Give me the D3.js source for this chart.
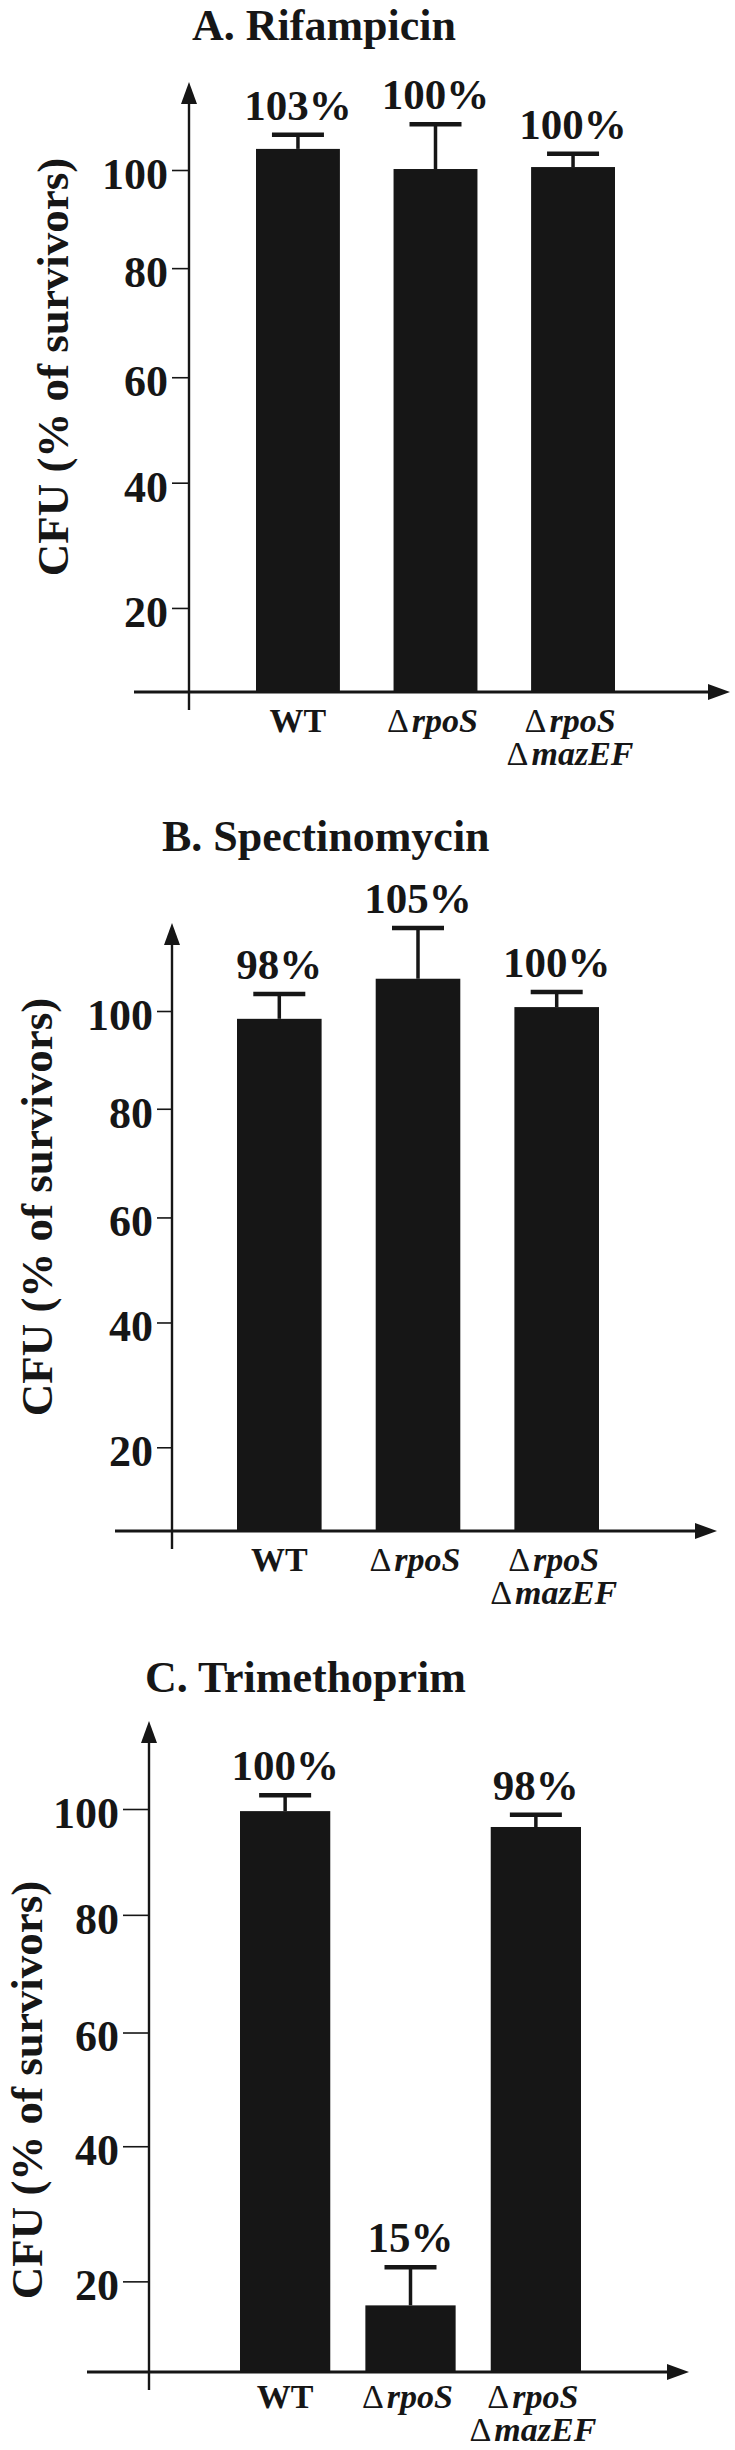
<!DOCTYPE html>
<html>
<head>
<meta charset="utf-8">
<script src="https://cdn.jsdelivr.net/npm/d3@7"></script>
<style>
  html, body { margin: 0; padding: 0; background: #fff; }
  svg { display: block; }
</style>
</head>
<body>
<svg id="chart" width="735" height="2450"></svg>
<script>
const categories = ['WT', 'ΔrpoS', 'ΔrpoS ΔmazEF']
const yTicks = [20, 40, 60, 80, 100]

const rifampicinMean = [104.3, 100.2, 100.6]
const rifampicinErr = [2.9, 9.1, 2.7]
const rifampicinLabels = ['103%', '100%', '100%']

const spectinomycinMean = [98.4, 106.6, 100.8]
const spectinomycinErr = [5.1, 10.4, 3.1]
const spectinomycinLabels = ['98%', '105%', '100%']

const trimethoprimMean = [99.6, 14.7, 96.6]
const trimethoprimErr = [3.0, 7.4, 2.3]
const trimethoprimLabels = ['100%', '15%', '98%']

// the printed axis is unevenly spaced; same pattern in all three panels
// (fraction of the distance from the 100 tick down to the x axis)
const axisStops = [0, 20, 40, 60, 80, 100]
const axisFrac = [1, 0.839, 0.599, 0.397, 0.188, 0]

const FONT = '"Liberation Serif", "Times New Roman", Times, serif'
const INK = '#161616'

const panels = [
  { title: 'A. Rifampicin', mean: rifampicinMean, err: rifampicinErr, labels: rifampicinLabels,
    top: 170, span: 522, axisX: 189, xStart: 134, xEnd: 730, bars: [256, 615], pad: 0.39,
    titlePos: [192, 40], yLab: [68, 367], tickLen: 17, catY: 40 },
  { title: 'B. Spectinomycin', mean: spectinomycinMean, err: spectinomycinErr, labels: spectinomycinLabels,
    top: 1011, span: 520, axisX: 172, xStart: 115, xEnd: 717, bars: [237, 599], pad: 0.39,
    titlePos: [162, 851], yLab: [52, 1207], tickLen: 15, catY: 40 },
  { title: 'C. Trimethoprim', mean: trimethoprimMean, err: trimethoprimErr, labels: trimethoprimLabels,
    top: 1809, span: 563, axisX: 149, xStart: 87, xEnd: 689, bars: [240, 581], pad: 0.28,
    titlePos: [145, 1692], yLab: [42, 2090], tickLen: 26, catY: 36 },
]

const svg = d3.select('#chart')

panels.forEach(p => {
  const g = svg.append('g').attr('font-family', FONT).attr('fill', INK)

  const y = d3.scaleLinear()
    .domain(axisStops)
    .range(axisFrac.map(f => p.top + f * p.span))

  const x = d3.scaleBand()
    .domain(categories)
    .range(p.bars)
    .paddingInner(p.pad)
    .paddingOuter(0)

  const y0 = y(0)
  const rows = categories.map((c, i) => ({ name: c, mean: p.mean[i], err: p.err[i], label: p.labels[i] }))

  // title
  g.append('text')
    .attr('x', p.titlePos[0])
    .attr('y', p.titlePos[1])
    .attr('font-size', 44)
    .attr('font-weight', 'bold')
    .text(p.title)

  // bars
  g.selectAll('.bar')
    .data(rows)
    .enter()
    .append('rect')
    .attr('class', 'bar')
    .attr('x', d => x(d.name))
    .attr('width', x.bandwidth())
    .attr('y', d => y(d.mean))
    .attr('height', d => y0 - y(d.mean))
    .attr('fill', INK)

  // error bars (upper only)
  const eb = g.selectAll('.err').data(rows).enter().append('g').attr('class', 'err')
  eb.append('line')
    .attr('x1', d => x(d.name) + x.bandwidth() / 2)
    .attr('x2', d => x(d.name) + x.bandwidth() / 2)
    .attr('y1', d => y(d.mean))
    .attr('y2', d => y(d.mean + d.err))
    .attr('stroke', INK)
    .attr('stroke-width', 3.5)
  eb.append('line')
    .attr('x1', d => x(d.name) + x.bandwidth() / 2 - 26)
    .attr('x2', d => x(d.name) + x.bandwidth() / 2 + 26)
    .attr('y1', d => y(d.mean + d.err))
    .attr('y2', d => y(d.mean + d.err))
    .attr('stroke', INK)
    .attr('stroke-width', 4.5)

  // value labels
  g.selectAll('.val')
    .data(rows)
    .enter()
    .append('text')
    .attr('class', 'val')
    .attr('x', d => x(d.name) + x.bandwidth() / 2)
    .attr('y', d => y(d.mean + d.err) - 15)
    .attr('text-anchor', 'middle')
    .attr('font-size', 43)
    .attr('font-weight', 'bold')
    .text(d => d.label)

  // y axis ticks + labels
  const yAxis = g.append('g')
    .attr('transform', `translate(${p.axisX},0)`)
    .call(d3.axisLeft(y).tickValues(yTicks).tickSize(p.tickLen).tickSizeOuter(0).tickPadding(4))
  yAxis.select('.domain').remove()
  yAxis.selectAll('.tick line').attr('stroke', INK).attr('stroke-width', 1.6)
  yAxis.selectAll('.tick text')
    .attr('fill', INK)
    .attr('font-family', FONT)
    .attr('font-size', 44)
    .attr('font-weight', 'bold')
    .attr('dy', '0.42em')

  // y axis line with arrow
  const arrowY = p.top - 88
  g.append('line')
    .attr('x1', p.axisX).attr('x2', p.axisX)
    .attr('y1', arrowY + 12).attr('y2', y0 + 18)
    .attr('stroke', INK).attr('stroke-width', 2.4)
  g.append('path')
    .attr('d', `M${p.axisX},${arrowY} L${p.axisX - 8},${arrowY + 22} L${p.axisX + 8},${arrowY + 22} Z`)
    .attr('fill', INK)

  // x axis line with arrow
  g.append('line')
    .attr('x1', p.xStart).attr('x2', p.xEnd - 12)
    .attr('y1', y0).attr('y2', y0)
    .attr('stroke', INK).attr('stroke-width', 3)
  g.append('path')
    .attr('d', `M${p.xEnd},${y0} L${p.xEnd - 22},${y0 - 8} L${p.xEnd - 22},${y0 + 8} Z`)
    .attr('fill', INK)

  // category labels (one text element, one tspan row per line)
  rows.forEach(d => {
    const cx = x(d.name) + x.bandwidth() / 2
    const t = g.append('text')
      .attr('y', y0 + p.catY)
      .attr('text-anchor', 'middle')
      .attr('font-size', 34)
      .attr('font-weight', 'bold')
    d.name.split(' ').forEach((ln, i) => {
      if (ln.startsWith('Δ')) {
        t.append('tspan')
          .attr('x', cx - 3)
          .attr('dy', i === 0 ? 0 : 33)
          .attr('font-weight', 'normal')
          .text('Δ')
        t.append('tspan').attr('dx', 3).attr('font-style', 'italic').text(ln.slice(1))
      } else {
        t.append('tspan').attr('x', cx).attr('dy', i === 0 ? 0 : 33).text(ln)
      }
    })
  })

  // y axis title
  g.append('text')
    .attr('transform', `translate(${p.yLab[0]},${p.yLab[1]}) rotate(-90)`)
    .attr('text-anchor', 'middle')
    .attr('font-size', 45)
    .attr('font-weight', 'bold')
    .text('CFU (% of survivors)')
})
</script>
</body>
</html>
